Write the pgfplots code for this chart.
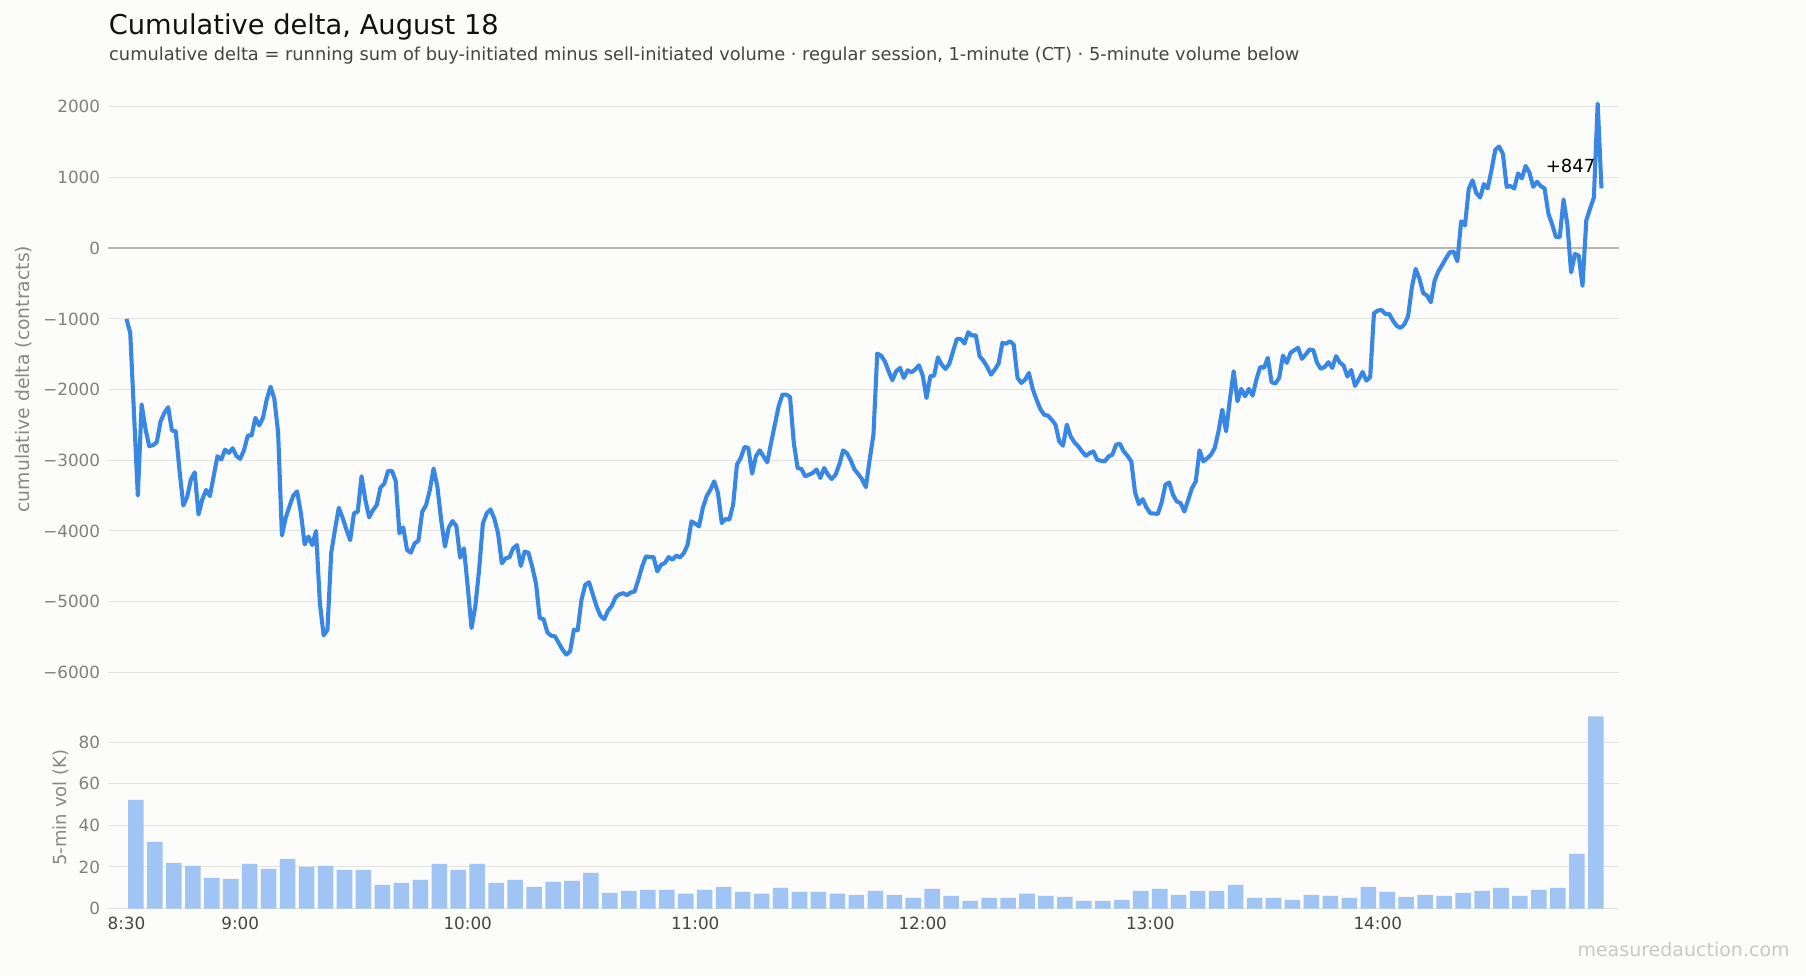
\documentclass[border=0pt]{standalone}
\usepackage{fontspec}
\setmainfont{DejaVu Sans}
\usepackage{pgfplots}
\usepackage{pgfplotstable}
\pgfplotsset{compat=1.18}
\definecolor{bg}{RGB}{252,252,250}
\definecolor{linec}{RGB}{57,135,229}
\definecolor{barc}{RGB}{160,196,243}
\definecolor{gridc}{RGB}{226,226,222}
\definecolor{zeroc}{RGB}{184,184,176}
\definecolor{ytickc}{RGB}{128,128,128}
\definecolor{xtickc}{RGB}{68,68,68}
\definecolor{ylabc}{RGB}{136,136,136}
\definecolor{titlec}{RGB}{17,17,17}
\definecolor{subc}{RGB}{68,68,68}
\definecolor{wmc}{RGB}{200,200,200}

\pgfplotstableread{
x y
0 -1000
1 -1200
2 -2350
3 -3500
4 -2210
5 -2550
6 -2800
7 -2786
8 -2744
9 -2450
10 -2330
11 -2250
12 -2580
13 -2590
14 -3150
15 -3640
16 -3520
17 -3270
18 -3170
19 -3767
20 -3555
21 -3420
22 -3507
23 -3225
24 -2942
25 -2990
26 -2850
27 -2895
28 -2830
29 -2940
30 -2980
31 -2857
32 -2650
33 -2650
34 -2400
35 -2508
36 -2400
37 -2140
38 -1960
39 -2130
40 -2610
41 -4064
42 -3814
43 -3650
44 -3500
45 -3440
46 -3743
47 -4190
48 -4080
49 -4200
50 -4000
51 -5015
52 -5477
53 -5400
54 -4310
55 -3980
56 -3672
57 -3814
58 -3980
59 -4130
60 -3750
61 -3728
62 -3225
63 -3560
64 -3808
65 -3705
66 -3635
67 -3385
68 -3330
69 -3150
70 -3150
71 -3290
72 -4034
73 -3950
74 -4270
75 -4307
76 -4175
77 -4137
78 -3730
79 -3635
80 -3423
81 -3117
82 -3376
83 -3846
84 -4222
85 -3950
86 -3860
87 -3930
88 -4377
89 -4245
90 -4786
91 -5374
92 -5068
93 -4550
94 -3893
95 -3752
96 -3696
97 -3822
98 -4034
99 -4457
100 -4387
101 -4372
102 -4245
103 -4200
104 -4495
105 -4293
106 -4307
107 -4504
108 -4740
109 -5233
110 -5247
111 -5435
112 -5482
113 -5491
114 -5585
115 -5680
116 -5750
117 -5703
118 -5397
119 -5406
120 -4974
121 -4762
122 -4725
123 -4900
124 -5070
125 -5200
126 -5247
127 -5130
128 -5060
129 -4936
130 -4898
131 -4880
132 -4908
133 -4870
134 -4856
135 -4690
136 -4502
137 -4360
138 -4370
139 -4370
140 -4572
141 -4478
142 -4454
143 -4370
144 -4407
145 -4350
146 -4374
147 -4313
148 -4195
149 -3864
150 -3897
151 -3935
152 -3676
153 -3510
154 -3416
155 -3298
156 -3463
157 -3888
158 -3831
159 -3840
160 -3628
161 -3062
162 -2968
163 -2812
164 -2826
165 -3190
166 -2944
167 -2859
168 -2944
169 -3029
170 -2755
171 -2496
172 -2236
173 -2071
174 -2071
175 -2104
176 -2755
177 -3110
178 -3123
179 -3227
180 -3204
181 -3180
182 -3130
183 -3250
184 -3110
185 -3204
186 -3265
187 -3204
188 -3060
189 -2860
190 -2900
191 -3000
192 -3130
193 -3195
194 -3270
195 -3380
196 -2992
197 -2638
198 -1491
199 -1519
200 -1600
201 -1741
202 -1868
203 -1741
204 -1694
205 -1835
206 -1727
207 -1755
208 -1717
209 -1656
210 -1802
211 -2119
212 -1812
213 -1802
214 -1543
215 -1647
216 -1708
217 -1637
218 -1458
219 -1283
220 -1283
221 -1349
222 -1189
223 -1236
224 -1231
225 -1529
226 -1590
227 -1680
228 -1788
229 -1717
230 -1632
231 -1340
232 -1350
233 -1316
234 -1363
235 -1835
236 -1906
237 -1859
238 -1765
239 -1991
240 -2142
241 -2274
242 -2355
243 -2369
244 -2425
245 -2496
246 -2732
247 -2794
248 -2496
249 -2661
250 -2746
251 -2803
252 -2874
253 -2940
254 -2900
255 -2874
256 -2992
257 -3007
258 -3016
259 -2945
260 -2922
261 -2780
262 -2766
263 -2874
264 -2936
265 -3016
266 -3456
267 -3621
268 -3550
269 -3668
270 -3749
271 -3754
272 -3758
273 -3597
274 -3347
275 -3314
276 -3489
277 -3583
278 -3607
279 -3725
280 -3560
281 -3395
282 -3300
283 -2860
284 -3016
285 -2974
286 -2922
287 -2827
288 -2591
289 -2284
290 -2591
291 -2142
292 -1740
293 -2165
294 -1990
295 -2095
296 -1990
297 -2085
298 -1858
299 -1679
300 -1693
301 -1551
302 -1896
303 -1915
304 -1835
305 -1518
306 -1622
307 -1480
308 -1442
309 -1409
310 -1565
311 -1504
312 -1433
313 -1442
314 -1622
315 -1707
316 -1679
317 -1612
318 -1693
319 -1527
320 -1618
321 -1660
322 -1816
323 -1722
324 -1948
325 -1854
326 -1750
327 -1873
328 -1825
329 -920
330 -882
331 -873
332 -929
333 -929
334 -1024
335 -1099
336 -1127
337 -1080
338 -962
339 -552
340 -292
341 -434
342 -637
343 -670
344 -764
345 -458
346 -325
347 -236
348 -142
349 -57
350 -47
351 -184
352 382
353 321
354 840
355 960
356 780
357 717
358 907
359 846
360 1107
361 1392
362 1439
363 1335
364 869
365 879
366 846
367 1059
368 988
369 1164
370 1069
371 869
372 940
373 879
374 846
375 489
376 337
377 157
378 157
379 689
380 337
381 -342
382 -81
383 -105
384 -532
385 394
386 561
387 717
388 2047
389 847
}\deltatable

\pgfplotstableread{
x v
2.5 52.3
7.5 32.1
12.5 22.0
17.5 20.5
22.5 14.7
27.5 14.3
32.5 21.5
37.5 19.1
42.5 23.9
47.5 20.0
52.5 20.5
57.5 18.6
62.5 18.6
67.5 11.4
72.5 12.3
77.5 13.8
82.5 21.5
87.5 18.6
92.5 21.5
97.5 12.3
102.5 13.8
107.5 10.4
112.5 12.8
117.5 13.3
122.5 17.2
127.5 7.5
132.5 8.5
137.5 9.0
142.5 9.0
147.5 7.1
152.5 9.0
157.5 10.4
162.5 8.0
167.5 7.1
172.5 9.9
177.5 8.0
182.5 8.0
187.5 7.1
192.5 6.6
197.5 8.5
202.5 6.6
207.5 5.1
212.5 9.5
217.5 6.1
222.5 3.7
227.5 5.1
232.5 5.1
237.5 7.1
242.5 6.1
247.5 5.6
252.5 3.7
257.5 3.7
262.5 4.2
267.5 8.5
272.5 9.5
277.5 6.6
282.5 8.5
287.5 8.5
292.5 11.4
297.5 5.1
302.5 5.1
307.5 4.2
312.5 6.6
317.5 6.1
322.5 5.1
327.5 10.4
332.5 8.0
337.5 5.6
342.5 6.6
347.5 6.1
352.5 7.5
357.5 8.5
362.5 9.9
367.5 6.1
372.5 9.0
377.5 9.9
382.5 26.3
387.5 92.5
}\voltable

\begin{document}
\begin{tikzpicture}
\useasboundingbox (0,0) rectangle (903pt,488pt);
\fill[bg] (0,0) rectangle (903pt,488pt);
\pgfplotsset{
  common/.style={
    scale only axis, width=755.7pt, xmin=-5, xmax=393.6,
    axis line style={draw=none}, tick style={draw=none}, major tick length=0pt,
    ymajorgrids, major grid style={color=gridc, line width=0.5pt},
    yticklabel style={font=\fontsize{8.4}{10}\selectfont, text=ytickc, anchor=east, inner sep=0pt, xshift=-3.5pt},
    ylabel style={font=\fontsize{9}{11}\selectfont, text=ylabc, anchor=center},
  }
}
\begin{axis}[common, at={(53.75pt,146.9pt)}, anchor=south west, height=303.1pt,
  ymin=-6140, ymax=2437,
  ytick={-6000,-5000,-4000,-3000,-2000,-1000,0,1000,2000},
  yticklabels={−6000,−5000,−4000,−3000,−2000,−1000,0,1000,2000},
  xtick=\empty,
  ylabel={cumulative delta (contracts)},
  ylabel style={at={(axis description cs:-0.0556,0.5)}, font=\fontsize{9.4}{11}\selectfont},
  clip=false]
\addplot[zeroc, line width=1.1pt, forget plot] coordinates {(-5,0) (393.6,0)};
\addplot[linec, line width=2.05pt, line join=round] table[x=x, y=y] {\deltatable};
\node[anchor=base east, inner sep=0pt, xshift=-2.9pt, yshift=8pt, font=\fontsize{9}{11}\selectfont, text=black] at (axis cs:389,847) {+847};
\end{axis}
\begin{axis}[common, at={(53.75pt,33.75pt)}, anchor=south west, height=100.9pt,
  ymin=0, ymax=97.1,
  ytick={0,20,40,60,80}, yticklabels={0,20,40,60,80},
  xtick={0,30,90,150,210,270,330},
  xticklabels={8:30,9:00,10:00,11:00,12:00,13:00,14:00},
  xticklabel style={font=\fontsize{8.4}{10}\selectfont, text=xtickc, anchor=north, inner sep=0pt, yshift=-4pt},
  ylabel={5-min vol (K)},
  ylabel style={at={(axis description cs:-0.0309,0.5)}}]
\addplot[ybar, bar width=4.1, fill=barc, draw=none] table[x=x, y=v] {\voltable};
\end{axis}
\node[anchor=base west, inner sep=0pt, text=titlec, font=\fontsize{13.65}{16}\selectfont] at (54.2pt,470.5pt) {Cumulative delta, August 18};
\node[anchor=base west, inner sep=0pt, text=subc, font=\fontsize{8.9}{10}\selectfont] at (54.4pt,457.6pt) {cumulative delta = running sum of buy-initiated minus sell-initiated volume · regular session, 1-minute (CT) · 5-minute volume below};
\node[anchor=base east, inner sep=0pt, text=wmc, font=\fontsize{9.5}{11}\selectfont] at (895pt,9.65pt) {measuredauction.com};
\end{tikzpicture}
\end{document}
